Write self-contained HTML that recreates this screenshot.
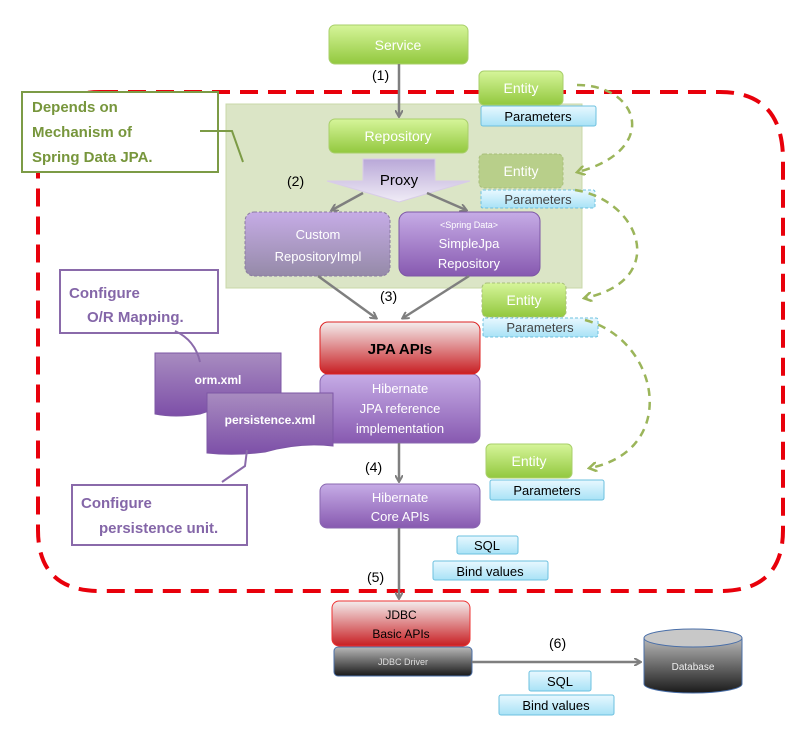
<!DOCTYPE html>
<html><head><meta charset="utf-8"><style>
body{margin:0;background:#fff}
svg{display:block;font-family:"Liberation Sans",sans-serif}
</style></head><body>
<svg width="807" height="745" viewBox="0 0 807 745" xmlns="http://www.w3.org/2000/svg">
<defs>
<linearGradient id="gr" x1="0" y1="0" x2="0" y2="1"><stop offset="0" stop-color="#d6f59a"/><stop offset="1" stop-color="#92c83e"/></linearGradient>
<linearGradient id="pu" x1="0" y1="0" x2="0" y2="1"><stop offset="0" stop-color="#c6ace6"/><stop offset="1" stop-color="#8759b0"/></linearGradient>
<linearGradient id="pu2" x1="0" y1="0" x2="0" y2="1"><stop offset="0" stop-color="#c6ace6"/><stop offset="1" stop-color="#958aa8"/></linearGradient>
<linearGradient id="doc" x1="0" y1="0" x2="0" y2="1"><stop offset="0" stop-color="#a88cc0"/><stop offset="1" stop-color="#7d4fa8"/></linearGradient>
<linearGradient id="rd" x1="0" y1="0" x2="0" y2="1"><stop offset="0" stop-color="#f4eeee"/><stop offset="1" stop-color="#c81e22"/></linearGradient>
<linearGradient id="bk" x1="0" y1="0" x2="0" y2="1"><stop offset="0" stop-color="#b8b8b8"/><stop offset="1" stop-color="#1a1a1a"/></linearGradient>
<linearGradient id="bl" x1="0" y1="0" x2="0" y2="1"><stop offset="0" stop-color="#e8f8ff"/><stop offset="1" stop-color="#a8e2f6"/></linearGradient>
<linearGradient id="px" x1="0" y1="0" x2="0" y2="1"><stop offset="0" stop-color="#b9a8d8"/><stop offset="1" stop-color="#f0ecf6"/></linearGradient>
<marker id="ar" markerWidth="8" markerHeight="8" refX="6" refY="4" orient="auto" markerUnits="userSpaceOnUse"><path d="M0,0 L7,4 L0,8" fill="none" stroke="#7f7f7f" stroke-width="2"/></marker>
<marker id="ag" markerWidth="10" markerHeight="10" refX="7" refY="5" orient="auto" markerUnits="userSpaceOnUse"><path d="M0,0 L8,5 L0,10" fill="none" stroke="#9bb55a" stroke-width="2.5"/></marker>
</defs>

<!-- green region -->
<rect x="226" y="104" width="356" height="184" fill="#dbe5c6" stroke="#c8d8a8"/>

<!-- red dashed boundary -->
<path d="M100,92 L720,92 Q783,92 783,160 L783,530 Q783,591 720,591 L100,591 Q38,591 38,530 L38,160 Q38,92 100,92 Z" fill="none" stroke="#e8000b" stroke-width="4" stroke-dasharray="18,10"/>

<!-- Service -->
<rect x="329" y="25" width="139" height="39" rx="6" fill="url(#gr)" stroke="#a8cf6a"/>
<text x="398" y="50" text-anchor="middle" font-size="14" fill="#fff">Service</text>
<line x1="399" y1="64" x2="399" y2="116" stroke="#7f7f7f" stroke-width="2.5" marker-end="url(#ar)"/>
<text x="372" y="80" font-size="14">(1)</text>

<!-- Repository -->
<rect x="329" y="119" width="139" height="34" rx="6" fill="url(#gr)" stroke="#a8cf6a"/>
<text x="398" y="141" text-anchor="middle" font-size="14" fill="#fff">Repository</text>

<!-- Proxy -->
<path d="M363,159 L435,159 L435,181 L470,181 L399,202 L327,181 L363,181 Z" fill="url(#px)" stroke="#d8cce8"/>
<text x="399" y="185" text-anchor="middle" font-size="15">Proxy</text>
<text x="287" y="186" font-size="14">(2)</text>
<line x1="363" y1="193" x2="332" y2="210" stroke="#7f7f7f" stroke-width="2.5" marker-end="url(#ar)"/>
<line x1="427" y1="193" x2="466" y2="210" stroke="#7f7f7f" stroke-width="2.5" marker-end="url(#ar)"/>

<rect x="245" y="212" width="145" height="64" rx="9" fill="url(#pu2)" stroke="#8a7aa0" stroke-dasharray="3,2"/>
<text x="318" y="239" text-anchor="middle" font-size="13" fill="#fff">Custom</text>
<text x="318" y="261" text-anchor="middle" font-size="13" fill="#fff">RepositoryImpl</text>
<rect x="399" y="212" width="141" height="64" rx="9" fill="url(#pu)" stroke="#7d57a5"/>
<text x="469" y="228" text-anchor="middle" font-size="9" fill="#fff">&lt;Spring Data&gt;</text>
<text x="469" y="248" text-anchor="middle" font-size="13" fill="#fff">SimpleJpa</text>
<text x="469" y="268" text-anchor="middle" font-size="13" fill="#fff">Repository</text>

<line x1="318" y1="276" x2="376" y2="318" stroke="#7f7f7f" stroke-width="2.5" marker-end="url(#ar)"/>
<line x1="469" y1="276" x2="403" y2="318" stroke="#7f7f7f" stroke-width="2.5" marker-end="url(#ar)"/>
<text x="380" y="301" font-size="14">(3)</text>

<!-- JPA -->
<rect x="320" y="374" width="160" height="69" rx="8" fill="url(#pu)" stroke="#8a68b0"/>
<text x="400" y="393" text-anchor="middle" font-size="13" fill="#fff">Hibernate</text>
<text x="400" y="413" text-anchor="middle" font-size="13" fill="#fff">JPA reference</text>
<text x="400" y="433" text-anchor="middle" font-size="13" fill="#fff">implementation</text>
<rect x="320" y="322" width="160" height="52" rx="8" fill="url(#rd)" stroke="#d22"/>
<text x="400" y="354" text-anchor="middle" font-size="15" font-weight="bold">JPA APIs</text>

<line x1="399" y1="443" x2="399" y2="481" stroke="#7f7f7f" stroke-width="2.5" marker-end="url(#ar)"/>
<text x="365" y="472" font-size="14">(4)</text>
<rect x="320" y="484" width="160" height="44" rx="7" fill="url(#pu)" stroke="#8a68b0"/>
<text x="400" y="502" text-anchor="middle" font-size="13" fill="#fff">Hibernate</text>
<text x="400" y="521" text-anchor="middle" font-size="13" fill="#fff">Core APIs</text>
<line x1="399" y1="528" x2="399" y2="598" stroke="#7f7f7f" stroke-width="2.5" marker-end="url(#ar)"/>
<text x="367" y="582" font-size="14">(5)</text>

<!-- JDBC -->
<rect x="332" y="601" width="138" height="45" rx="7" fill="url(#rd)" stroke="#e33"/>
<text x="401" y="619" text-anchor="middle" font-size="12">JDBC</text>
<text x="401" y="638" text-anchor="middle" font-size="12">Basic APIs</text>
<rect x="334" y="647" width="138" height="29" rx="4" fill="url(#bk)" stroke="#4a6fa8"/>
<text x="403" y="665" text-anchor="middle" font-size="9" fill="#ddd">JDBC Driver</text>
<line x1="472" y1="662" x2="640" y2="662" stroke="#7f7f7f" stroke-width="2.5" marker-end="url(#ar)"/>
<text x="549" y="648" font-size="14">(6)</text>

<!-- Database -->
<path d="M644,638 L644,684 A49,9 0 0 0 742,684 L742,638" fill="url(#bk)" stroke="#4a6fa8"/>
<ellipse cx="693" cy="638" rx="49" ry="9" fill="#c8c8c8" stroke="#4a6fa8"/>
<text x="693" y="670" text-anchor="middle" font-size="10" fill="#eee">Database</text>

<!-- blue tags -->
<g font-size="13" text-anchor="middle">
<rect x="457" y="536" width="61" height="18" rx="2" fill="url(#bl)" stroke="#6cc0df"/><text x="487" y="550">SQL</text>
<rect x="433" y="561" width="115" height="19" rx="2" fill="url(#bl)" stroke="#6cc0df"/><text x="490" y="576">Bind values</text>
<rect x="529" y="671" width="62" height="20" rx="2" fill="url(#bl)" stroke="#6cc0df"/><text x="560" y="686">SQL</text>
<rect x="499" y="695" width="115" height="20" rx="2" fill="url(#bl)" stroke="#6cc0df"/><text x="556" y="710">Bind values</text>
<rect x="481" y="106" width="115" height="20" rx="2" fill="url(#bl)" stroke="#6cc0df"/><text x="538" y="121">Parameters</text>
<rect x="481" y="190" width="114" height="18" rx="2" fill="url(#bl)" stroke="#6cc0df" stroke-dasharray="3,2"/><text x="538" y="204" fill="#444">Parameters</text>
<rect x="483" y="318" width="115" height="19" rx="2" fill="url(#bl)" stroke="#6cc0df" stroke-dasharray="3,2"/><text x="540" y="332" fill="#444">Parameters</text>
<rect x="490" y="480" width="114" height="20" rx="2" fill="url(#bl)" stroke="#6cc0df"/><text x="547" y="495">Parameters</text>
</g>

<!-- entities -->
<g font-size="14" text-anchor="middle" fill="#fff">
<rect x="479" y="71" width="84" height="34" rx="5" fill="url(#gr)" stroke="#a8cf6a"/><text x="521" y="93">Entity</text>
<rect x="479" y="154" width="84" height="34" rx="5" fill="#b8cf8a" stroke="#a8bf7a" stroke-dasharray="3,2"/><text x="521" y="176">Entity</text>
<rect x="482" y="283" width="84" height="34" rx="5" fill="url(#gr)" stroke="#a8bf7a" stroke-dasharray="3,2"/><text x="524" y="305">Entity</text>
<rect x="486" y="444" width="86" height="34" rx="5" fill="url(#gr)" stroke="#a8cf6a"/><text x="529" y="466">Entity</text>
</g>

<!-- green dashed curves -->
<g fill="none" stroke="#9bb55a" stroke-width="2.5" stroke-dasharray="8,6">
<path d="M577,85 C640,85 660,150 578,172" marker-end="url(#ag)"/>
<path d="M575,190 C640,200 670,280 585,298" marker-end="url(#ag)"/>
<path d="M585,320 C660,340 680,450 590,468" marker-end="url(#ag)"/>
</g>

<!-- Depends on box -->
<rect x="22" y="92" width="196" height="80" fill="#fff" stroke="#7c9b46" stroke-width="2"/>
<polyline points="200,131 232,131 243,162" fill="none" stroke="#7c9b46" stroke-width="2"/>
<g font-size="15" font-weight="bold" fill="#77963c">
<text x="32" y="112">Depends on</text>
<text x="32" y="137">Mechanism of</text>
<text x="32" y="162">Spring Data JPA.</text>
</g>

<!-- config boxes -->
<rect x="60" y="270" width="158" height="63" fill="#fff" stroke="#8a6aaa" stroke-width="2"/>
<g font-size="15" font-weight="bold" fill="#8466a8">
<text x="69" y="298">Configure</text>
<text x="87" y="322">O/R Mapping.</text>
</g>
<path d="M155,353 L281,353 L281,406 Q240,400 200,414 Q175,418 155,414 Z" fill="url(#doc)" stroke="#7d57a5"/>
<text x="218" y="384" text-anchor="middle" font-size="12" font-weight="bold" fill="#fff">orm.xml</text>
<path d="M175,331 Q195,340 200,362" fill="none" stroke="#8a6aaa" stroke-width="2"/>
<path d="M207,393 L333,393 L333,446 Q300,442 265,452 Q235,456 207,453 Z" fill="url(#doc)" stroke="#7d57a5"/>
<text x="270" y="424" text-anchor="middle" font-size="12" font-weight="bold" fill="#fff">persistence.xml</text>
<polyline points="247,450 245,466 222,482" fill="none" stroke="#8a6aaa" stroke-width="2"/>
<rect x="72" y="485" width="175" height="60" fill="#fff" stroke="#8a6aaa" stroke-width="2"/>
<g font-size="15" font-weight="bold" fill="#8466a8">
<text x="81" y="508">Configure</text>
<text x="99" y="533">persistence unit.</text>
</g>
</svg>
</body></html>
